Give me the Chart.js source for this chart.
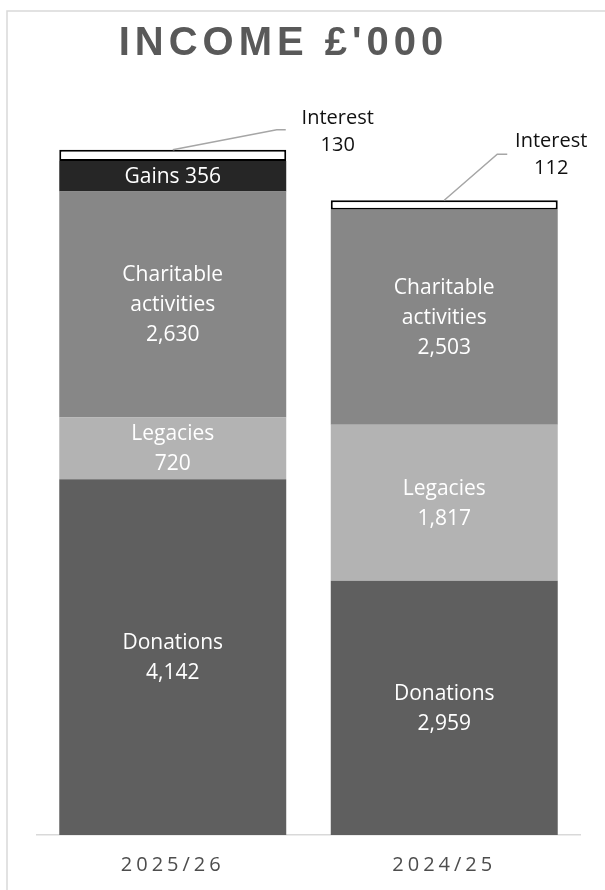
<!DOCTYPE html>
<html>
<head>
<meta charset="utf-8">
<title>Income £'000</title>
<script src="https://cdn.jsdelivr.net/npm/chart.js@4.4.1/dist/chart.umd.min.js"></script>
<style>
    html, body { margin: 0; padding: 0; background: #fff; }
    #wrap { width: 605px; height: 890px; position: relative; }
</style>
</head>
<body>
<div id="wrap"><canvas id="myChart" width="605" height="890"></canvas></div>
<script>
// chart values, £'000
var years = ['2025/26', '2024/25'];
var donations = [4142, 2959];
var legacies = [720, 1817];
var charitable = [2630, 2503];
var gains = [356, 0];
var interest = [130, 112];

var seriesNames = ['Donations', 'Legacies', 'Charitable activities', 'Gains', 'Interest'];
var seriesColors = ['#5f5f5f', '#b3b3b3', '#878787', '#262626', '#ffffff'];

var chartTitle = "INCOME £'000";

function fmt(v) {
    return v.toLocaleString('en-GB');
}

window.onload = function() {
    var ctx = document.getElementById('myChart').getContext('2d');

    // frame, title and letter spacing for the axis labels
    var decorPlugin = {
        id: 'decor',
        beforeDraw: function(chart) {
            var c = chart.ctx;
            c.save();
            c.strokeStyle = '#d9d9d9';
            c.lineWidth = 1.5;
            c.strokeRect(7, 11, 700, 1000);

            c.font = 'bold 40px "Liberation Sans", Arial, sans-serif';
            c.letterSpacing = '5px';
            c.fillStyle = '#595959';
            c.textBaseline = 'alphabetic';
            c.textAlign = 'left';
            var w = c.measureText(chartTitle).width - 5;
            c.fillText(chartTitle, 281 - w / 2, 55);
            c.restore();
            c.letterSpacing = '4px';
        },
        beforeDatasetsDraw: function(chart) {
            chart.ctx.letterSpacing = '0px';
        }
    };

    // white labels inside the segments, callouts for interest
    var labelPlugin = {
        id: 'segLabels',
        afterDatasetsDraw: function(chart) {
            var c = chart.ctx;
            c.save();
            c.letterSpacing = '0px';
            c.textAlign = 'center';
            c.textBaseline = 'middle';

            for (var d = 0; d < 4; d++) {
                var meta = chart.getDatasetMeta(d);
                var vals = chart.data.datasets[d].data;
                meta.data.forEach(function(el, i) {
                    var v = vals[i];
                    if (!v) return;
                    var lines;
                    if (d === 2) lines = ['Charitable', 'activities', fmt(v)];
                    else if (d === 3) lines = ['Gains ' + fmt(v)];
                    else lines = [seriesNames[d], fmt(v)];
                    var cy = (el.y + el.base) / 2 + 1;
                    var lh = 30;
                    c.font = '21px "Open Sans", sans-serif';
                    c.fillStyle = '#ffffff';
                    lines.forEach(function(t, k) {
                        c.fillText(t, el.x, cy + (k - (lines.length - 1) / 2) * lh);
                    });
                });
            }

            // interest callouts: elbow and label offsets from the bar top
            var callouts = [
                { elbow: [104, -20], end: [113, -20], text: [165, -31] },
                { elbow: [53, -46], end: [63, -46], text: [107, -59] }
            ];
            var imeta = chart.getDatasetMeta(4);
            imeta.data.forEach(function(el, i) {
                var co = callouts[i];
                c.strokeStyle = '#a6a6a6';
                c.lineWidth = 1.5;
                c.beginPath();
                c.moveTo(el.x, el.y);
                c.lineTo(el.x + co.elbow[0], el.y + co.elbow[1]);
                c.lineTo(el.x + co.end[0], el.y + co.end[1]);
                c.stroke();
                c.font = '20px "Open Sans", sans-serif';
                c.fillStyle = '#111111';
                c.fillText('Interest', el.x + co.text[0], el.y + co.text[1]);
                c.fillText(fmt(interest[i]), el.x + co.text[0], el.y + co.text[1] + 27);
            });
            c.restore();
        }
    };

    var seriesData = [donations, legacies, charitable, gains, interest];
    var datasets = seriesData.map(function(arr, k) {
        return {
            label: seriesNames[k],
            data: arr,
            backgroundColor: seriesColors[k],
            borderColor: k === 4 ? '#000000' : seriesColors[k],
            borderWidth: k === 4 ? 2 : 0,
            borderSkipped: false,
            categoryPercentage: 1.0,
            barPercentage: 0.836
        };
    });

    var myChart = new Chart(ctx, {
        type: 'bar',
        data: {
            labels: years,
            datasets: datasets
        },
        options: {
            responsive: false,
            animation: false,
            layout: {
                padding: { top: 62, left: 37, right: 25, bottom: 0 }
            },
            plugins: {
                legend: { display: false },
                title: { display: false },
                tooltip: { enabled: false }
            },
            scales: {
                x: {
                    stacked: true,
                    grid: { display: false, drawTicks: false },
                    border: { display: true, color: '#d9d9d9', width: 1.5 },
                    ticks: {
                        color: '#4d4d4d',
                        padding: 18,
                        font: { family: '"Open Sans", sans-serif', size: 20 }
                    },
                    afterFit: function(scale) {
                        scale.height = 55;
                    }
                },
                y: {
                    stacked: true,
                    display: false,
                    min: 0,
                    max: 9000
                }
            }
        },
        plugins: [decorPlugin, labelPlugin]
    });
};
</script>
</body>
</html>
